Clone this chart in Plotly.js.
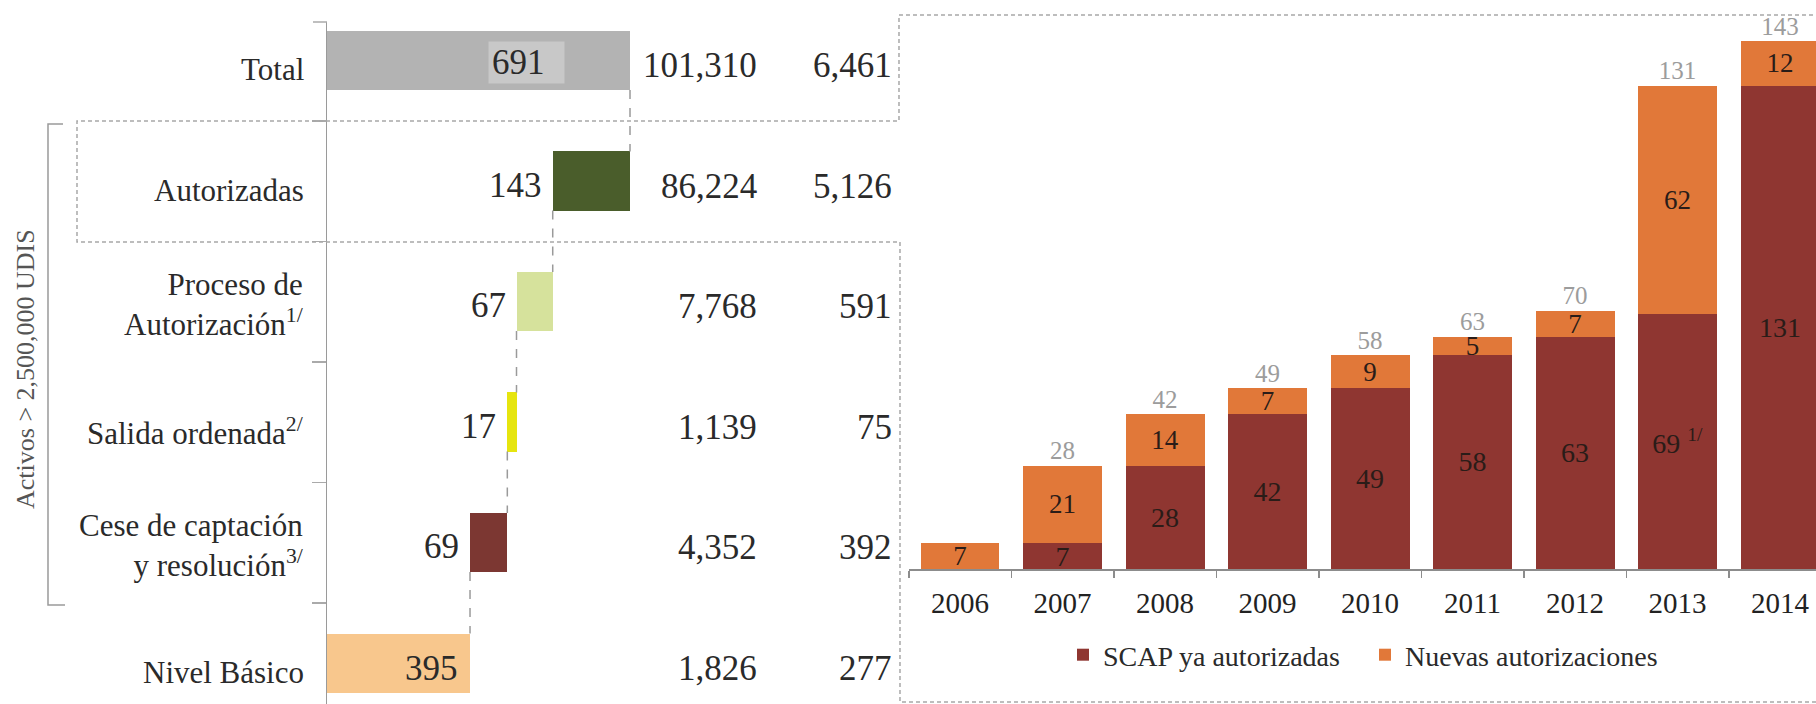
<!DOCTYPE html>
<html>
<head>
<meta charset="utf-8">
<script src="https://cdn.plot.ly/plotly-3.0.1.min.js"></script>
<style>html,body{margin:0;padding:0;background:#fff;}</style>
</head>
<body>
<div id="chart" style="width:1816px;height:704px;"></div>
<script>
// ---------- data: left panel (SCAP by status) ----------
const categories = ['Total', 'Autorizadas', 'Proceso de Autorización', 'Salida ordenada', 'Cese de captación y resolución', 'Nivel Básico'];
const rowLabels = ['Total', 'Autorizadas', 'Proceso de<br>Autorización<sup>1/</sup>', 'Salida ordenada<sup>2/</sup>', 'Cese de captación<br>y resolución<sup>3/</sup>', 'Nivel Básico'];
const scapCount = [691, 143, 67, 17, 69, 395];
const activos = [101310, 86224, 7768, 1139, 4352, 1826];
const socios = [6461, 5126, 591, 75, 392, 277];
const barColors = ['#b3b3b3', '#4a5d2b', '#d6e29c', '#e6e50f', '#7c3732', '#f8c78d'];

// ---------- data: right panel (authorized SCAP by year) ----------
const years = ['2006', '2007', '2008', '2009', '2010', '2011', '2012', '2013', '2014'];
const scapPrev = [0, 7, 28, 42, 49, 58, 63, 69, 131];
const scapNew = [7, 21, 14, 7, 9, 5, 7, 62, 12];
const scapTotal = [null, 28, 42, 49, 58, 63, 70, 131, 143];
const prevNotes = ['', '', '', '', '', '', '', '1/', ''];

// ---------- helpers ----------
const W = 1816, H = 704;
const px = x => x / W;
const py = y => 1 - y / H;
const FONT = 'Liberation Serif, Times New Roman, serif';
const fmt = v => v.toLocaleString('en-US');
const pathPx = pts => pts.map((p, i) => (i ? 'L' : 'M') + px(p[0]).toFixed(5) + ',' + py(p[1]).toFixed(5)).join(' ');

// waterfall bases (Total is drawn from 0, the components split it downward)
const bases = [0];
let run = scapCount[0];
for (let i = 1; i < scapCount.length; i++) { run -= scapCount[i]; bases.push(run); }

const HALF = 0.245;

const traces = [
  {
    type: 'bar', orientation: 'h', y: categories, x: scapCount, base: bases,
    marker: { color: barColors }, width: HALF * 2,
    xaxis: 'x', yaxis: 'y', hoverinfo: 'skip', showlegend: false
  },
  {
    type: 'bar', x: years, y: scapPrev, name: 'SCAP ya autorizadas',
    marker: { color: '#8f3631' }, width: 0.77,
    text: scapPrev.map((v, i) => v ? String(v) + (prevNotes[i] ? ' <sup>' + prevNotes[i] + '</sup>' : '') : ''),
    textposition: 'inside', insidetextanchor: 'middle', constraintext: 'none', textangle: 0,
    textfont: { family: FONT, size: 28, color: '#2a1c18' },
    xaxis: 'x2', yaxis: 'y2', hoverinfo: 'skip'
  },
  {
    type: 'bar', x: years, y: scapNew, name: 'Nuevas autorizaciones',
    marker: { color: '#e17839' }, width: 0.77,
    text: scapNew.map(v => String(v)),
    textposition: 'inside', insidetextanchor: 'middle', constraintext: 'none', textangle: 0,
    textfont: { family: FONT, size: 27, color: '#2a1c18' },
    xaxis: 'x2', yaxis: 'y2', hoverinfo: 'skip'
  },
  {
    type: 'scatter', mode: 'text', x: years, y: scapTotal,
    text: scapTotal.map(v => v == null ? '' : String(v)),
    textposition: 'top center',
    textfont: { family: FONT, size: 25, color: '#9c9c9c' },
    xaxis: 'x2', yaxis: 'y2', hoverinfo: 'skip', showlegend: false, cliponaxis: false
  }
];

const annotations = [];
// row labels and the two numeric columns
categories.forEach((c, i) => {
  annotations.push({
    xref: 'paper', x: px(306), xanchor: 'right', yref: 'y', y: c,
    yshift: rowLabels[i].includes('<br>') ? -3 : -9,
    text: rowLabels[i], align: 'right', showarrow: false,
    font: { family: FONT, size: 31, color: '#2a2a2a' }
  });
  annotations.push({
    xref: 'paper', x: px(759), xanchor: 'right', yref: 'y', y: c, yshift: -5,
    text: fmt(activos[i]), showarrow: false,
    font: { family: FONT, size: 35, color: '#2a2a2a' }
  });
  annotations.push({
    xref: 'paper', x: px(894), xanchor: 'right', yref: 'y', y: c, yshift: -5,
    text: fmt(socios[i]), showarrow: false,
    font: { family: FONT, size: 35, color: '#2a2a2a' }
  });
});
// value labels of the split bars
for (let i = 1; i < categories.length - 1; i++) {
  annotations.push({
    xref: 'x', x: bases[i], xanchor: 'right', xshift: -9, yref: 'y', y: categories[i], yshift: -4,
    text: String(scapCount[i]), showarrow: false,
    font: { family: FONT, size: 35, color: '#2a2a2a' }
  });
}
const last = categories.length - 1;
annotations.push({
  xref: 'x', x: bases[last] + scapCount[last], xanchor: 'right', xshift: -10, yref: 'y', y: categories[last], yshift: -5,
  text: String(scapCount[last]), showarrow: false,
  font: { family: FONT, size: 35, color: '#2a2a2a' }
});
// total label in its light box
annotations.push({
  xref: 'paper', x: px(488), xanchor: 'left', yref: 'y', y: categories[0], yshift: -2,
  text: String(scapCount[0]), showarrow: false, align: 'left',
  width: 69, height: 35, borderpad: 3, bgcolor: '#c8c8c8',
  font: { family: FONT, size: 35, color: '#2a2a2a' }
});
// bracket label
annotations.push({
  xref: 'paper', x: px(25), xanchor: 'center', yref: 'paper', y: py(369), yanchor: 'middle', textangle: -90,
  text: 'Activos &gt; 2,500,000 UDIS', showarrow: false,
  font: { family: FONT, size: 26, color: '#555555' }
});

const shapes = [];
// waterfall connectors
for (let i = 0; i < categories.length - 1; i++) {
  const xc = bases[i + 1] + scapCount[i + 1];
  shapes.push({
    type: 'line', xref: 'x', yref: 'y', x0: xc, x1: xc, y0: i + HALF, y1: i + 1 - HALF,
    line: { color: '#9a9a9a', width: 1.5, dash: 'dash' }
  });
}
// bracket
shapes.push({
  type: 'path', xref: 'paper', yref: 'paper',
  path: pathPx([[63, 124], [48, 124], [48, 605], [65, 605]]),
  line: { color: '#9a9a9a', width: 1.5 }
});
// small cap tick at top of left axis
shapes.push({
  type: 'line', xref: 'paper', yref: 'paper', x0: px(313), x1: px(327), y0: py(22), y1: py(22),
  line: { color: '#aaaaaa', width: 1.5 }
});
// dashed callout frame
shapes.push({
  type: 'path', xref: 'paper', yref: 'paper',
  path: pathPx([[1820, 15], [899, 15], [899, 121], [77, 121], [77, 242], [900, 242], [900, 702], [1820, 702]]),
  line: { color: '#a8a8a8', width: 1.5, dash: '4px,3px' }
});

const layout = {
  width: W, height: H,
  margin: { l: 0, r: 0, t: 0, b: 0 },
  paper_bgcolor: '#ffffff', plot_bgcolor: 'rgba(0,0,0,0)',
  barmode: 'stack',
  font: { family: FONT, color: '#2a2a2a' },
  showlegend: true,
  legend: {
    orientation: 'h', x: px(1063), xanchor: 'left', y: py(655), yanchor: 'middle',
    entrywidth: 257, entrywidthmode: 'pixels',
    font: { family: FONT, size: 28, color: '#2a2a2a' }, bgcolor: 'rgba(0,0,0,0)', traceorder: 'normal'
  },
  xaxis: {
    domain: [px(327), px(900)], range: [130.4, 1190.5], anchor: 'y', visible: false, fixedrange: true
  },
  yaxis: {
    domain: [0, 1 - 22 / H], type: 'category', categoryorder: 'array', categoryarray: categories,
    range: [5.340, -0.3195], anchor: 'x',
    showline: true, linecolor: '#9a9a9a', linewidth: 1.5,
    ticks: 'outside', tickson: 'boundaries', ticklen: 14, tickcolor: '#aaaaaa', tickwidth: 1.5,
    showticklabels: false, showgrid: false, zeroline: false, fixedrange: true
  },
  xaxis2: {
    domain: [px(908.75), 1], type: 'category', range: [-0.5, 8.35], anchor: 'y2',
    showline: true, linecolor: '#8c8c8c', linewidth: 2,
    ticks: 'outside', tickson: 'boundaries', ticklen: 7, tickcolor: '#8c8c8c', tickwidth: 1.5,
    ticklabelstandoff: 7,
    tickfont: { family: FONT, size: 29, color: '#222222' },
    showgrid: false, zeroline: false, fixedrange: true
  },
  yaxis2: {
    domain: [1 - 569 / H, 1], range: [0, 569 / 3.69], anchor: 'x2', visible: false, fixedrange: true
  },
  annotations: annotations,
  shapes: shapes
};

Plotly.newPlot('chart', traces, layout, { staticPlot: true, displayModeBar: false });
</script>
</body>
</html>
